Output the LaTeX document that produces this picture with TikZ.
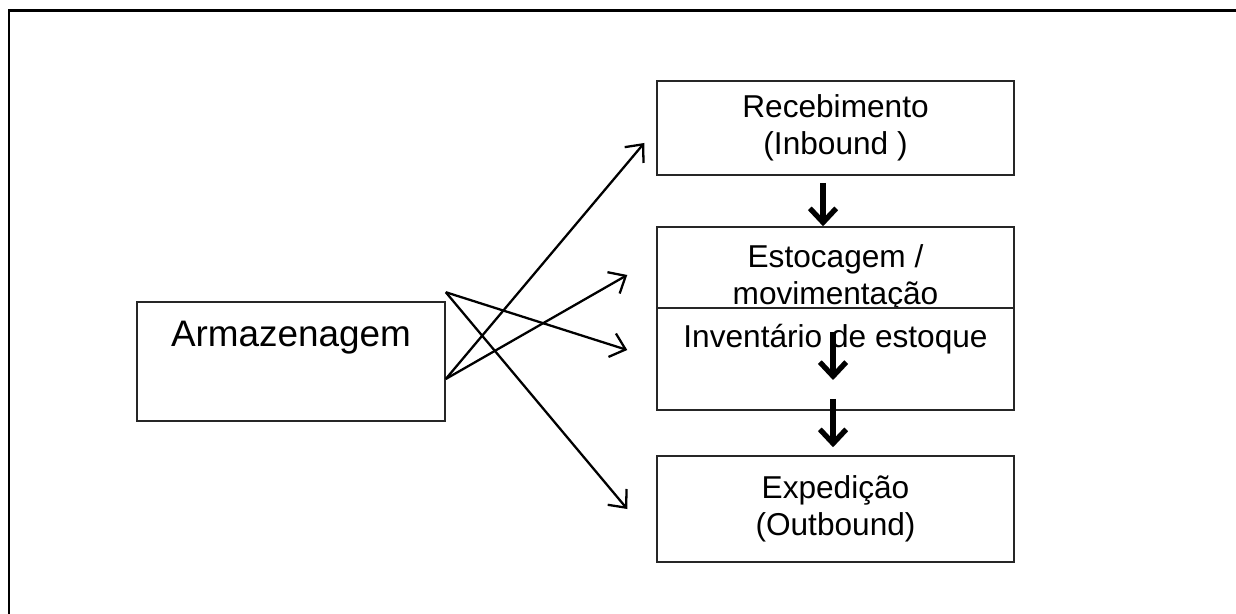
\documentclass[tikz,border=0pt]{standalone}
\usepackage{fontspec}
\setmainfont{Liberation Sans}
\usetikzlibrary{arrows.meta}

\begin{document}
\begin{tikzpicture}[x=0.02cm, y=-0.02cm,
        caixa/.style={draw=black!85, line width=0.9pt, fill=white, inner sep=0pt,
                minimum width=7.14cm, align=center, font=\fontsize{18}{21}\selectfont},
        fina/.style={line width=1.3pt, -{Straight Barb[length=8pt, width=14pt]}},
        grossa/.style={line width=3pt, -{Straight Barb[length=8pt, width=15pt]},
                preaction={draw=gray!60, transform canvas={shift={(0.6pt,-1.4pt)}}}}]
        \useasboundingbox (0,0) rectangle (1236,614);
        \draw[line width=1.7pt] (9,614) -- (9,11) -- (1236,11);

        \node[caixa, minimum height=1.88cm] (receb) at (835.5,128) {Recebimento\\(Inbound )};
        \node[caixa, minimum height=2.02cm] (estoc) at (835.5,277.5) {Estocagem /\\movimentação};
        \node[caixa, text height=0.8cm, text depth=1.24cm, anchor=base] (invent) at (835.5,348) {Inventário de estoque};
        \node[caixa, minimum height=2.12cm] (exped) at (835.5,509) {Expedição\\(Outbound)};
        \node[caixa, minimum width=6.16cm, text height=0.9cm, text depth=1.48cm, anchor=base,
                font=\fontsize{21}{25}\selectfont] (armaz) at (291,347) {Armazenagem};

        % saidas da armazenagem
        \coordinate (sa) at ([yshift=0.18cm]armaz.north east);
        \coordinate (sb) at ([yshift=-0.35cm]armaz.east);
        \draw[fina] (sb) -- ([xshift=-0.24cm, yshift=-0.3cm]receb.west);
        \draw[fina] (sb) -- ([xshift=-0.58cm, yshift=0.05cm]estoc.west);
        \draw[fina] (sa) -- ([xshift=-0.58cm, yshift=0.18cm]invent.west);
        \draw[fina] (sa) -- ([xshift=-0.58cm]exped.west);

        % fluxo
        \draw[grossa] ([xshift=-0.25cm, yshift=-0.14cm]receb.south) -- ([xshift=-0.25cm]estoc.north);
        \draw[grossa] ([xshift=-0.05cm, yshift=0.54cm]invent.center) -- ([xshift=-0.05cm, yshift=-0.42cm]invent.center);
        \draw[grossa] ([xshift=-0.05cm, yshift=0.24cm]invent.south) -- ([xshift=-0.05cm, yshift=0.16cm]exped.north);
\end{tikzpicture}
\end{document}
